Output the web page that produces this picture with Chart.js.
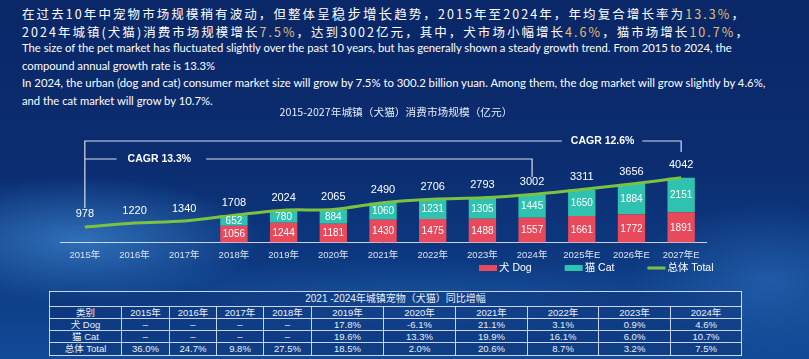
<!DOCTYPE html>
<html><head><meta charset="utf-8">
<script src="https://cdn.jsdelivr.net/npm/chart.js@4.4.1/dist/chart.umd.min.js"></script>
<style>
html,body{margin:0;padding:0;}
body{width:809px;height:359px;overflow:hidden;position:relative;
background:
 radial-gradient(ellipse 260px 90px at 80px 240px, rgba(70,150,225,0.6), rgba(70,150,225,0) 70%),
 radial-gradient(ellipse 200px 110px at 770px 280px, rgba(50,120,200,0.5), rgba(50,120,200,0) 70%),
 radial-gradient(ellipse 520px 60px at 420px 300px, rgba(40,110,190,0.35), rgba(40,110,190,0) 70%),
 linear-gradient(180deg,#0a2767 0%,#0b2d70 45%,#0d3a82 75%,#124a97 100%);
font-family:"Noto Sans CJK SC","Noto Sans",sans-serif;color:#fff;}
.zh{position:absolute;left:22px;font-size:12.5px;letter-spacing:2.6px;white-space:nowrap;line-height:16px;}
.zh .big{font-size:13.5px}
.gold{color:#e2bd74}
.en{position:absolute;left:22px;font-family:Lato,"Liberation Sans",sans-serif;font-size:12px;white-space:nowrap;line-height:16px;color:#fff}
#wrap{position:absolute;left:0;top:100px;width:809px;height:190px}
table{position:absolute;left:49px;top:291px;border-collapse:collapse;table-layout:fixed;width:692px;
 font-family:"Liberation Sans","Noto Sans CJK SC",sans-serif;font-size:9.5px;color:#e8eef8;background:rgba(8,30,90,0.25)}
td{border:1px solid rgba(235,240,250,0.85);padding:0;text-align:center;line-height:10px;height:11px;overflow:hidden;white-space:nowrap}
tr.t td{height:14px;font-size:10px}
tr.last td{height:12px}
</style></head><body>
<div class="zh" id="z1" style="top:5px">在过去10年中宠物市场规模稍有波动，但整体呈<span class="big">稳步增长</span>趋势，2015年至2024年，年均复合增长率为<span class="gold">13.3%</span>，</div>
<div class="zh" id="z2" style="top:24px">2024年城镇(犬猫)消费市场规模增长<span class="gold">7.5%</span>，达到3002亿元，其中，犬市场小幅增长<span class="gold">4.6%</span>，猫市场增长<span class="gold">10.7%</span>，</div>
<div class="en" id="e1" style="top:40px">The size of the pet market has fluctuated slightly over the past 10 years, but has generally shown a steady growth trend. From 2015 to 2024, the</div>
<div class="en" id="e2" style="top:58px">compound annual growth rate is 13.3%</div>
<div class="en" id="e3" style="top:75px">In 2024, the urban (dog and cat) consumer market size will grow by 7.5% to 300.2 billion yuan. Among them, the dog market will grow slightly by 4.6%,</div>
<div class="en" id="e4" style="top:93px">and the cat market will grow by 10.7%.</div>
<div id="wrap"><canvas id="c" width="809" height="190"></canvas></div>
<table id="tbl"></table>
<script>
// ---- data ----
const years = ['2015年','2016年','2017年','2018年','2019年','2020年','2021年','2022年','2023年','2024年','2025年E','2026年E','2027年E'];
const dog   = [null,null,null,1056,1244,1181,1430,1475,1488,1557,1661,1772,1891];
const cat   = [null,null,null,652,780,884,1060,1231,1305,1445,1650,1884,2151];
const total = [978,1220,1340,1708,2024,2065,2490,2706,2793,3002,3311,3656,4042];
const cagrLabels = ['CAGR 12.6%','CAGR 13.3%'];
const chartTitle = '2015-2027年城镇（犬猫）消费市场规模（亿元）';

const tableTitle = '2021 -2024年城镇宠物（犬猫）同比增幅';
const tableHeader = ['类别','2015年','2016年','2017年','2018年','2019年','2020年','2021年','2022年','2023年','2024年'];
const rowDog   = ['犬 Dog','–','–','–','–','17.8%','-6.1%','21.1%','3.1%','0.9%','4.6%'];
const rowCat   = ['猫 Cat','–','–','–','–','19.6%','13.3%','19.9%','16.1%','6.0%','10.7%'];
const rowTotal = ['总体 Total','36.0%','24.7%','9.8%','27.5%','18.5%','2.0%','20.6%','8.7%','3.2%','7.5%'];

// ---- table ----
(function(){
  const t=document.getElementById('tbl');
  const widths=[72,48,47,47,48,72,72,72,71,72,71];
  let h='<colgroup>'+widths.map(w=>'<col style="width:'+w+'px">').join('')+'</colgroup>';
  h+='<tr class="t"><td colspan="11">'+tableTitle+'</td></tr>';
  [tableHeader,rowDog,rowCat,rowTotal].forEach((r,i)=>{
    h+='<tr'+(i===3?' class="last"':'')+'>'+r.map(c=>'<td>'+c+'</td>').join('')+'</tr>';
  });
  t.innerHTML=h;
})();

// ---- text fitting ----
function fitLS(id,target){const el=document.getElementById(id);el.style.letterSpacing='0px';const w=el.getBoundingClientRect().width;const n=[...el.textContent].length;el.style.letterSpacing=((target-w)/n)+'px';}
function fitFS(ids,refId,target){const r=document.getElementById(refId);const w=r.getBoundingClientRect().width;const fs=12*target/w;ids.forEach(i=>document.getElementById(i).style.fontSize=fs+'px');}
fitLS('z1',724);fitLS('z2',728);
fitFS(['e1','e2','e4'],'e1',710);
fitFS(['e3'],'e3',744);

// ---- chart ----
const RED='#e84a5c', TEAL='#2fc2b1', GREEN='#7cc242';
const FONT='"Liberation Sans","Noto Sans CJK SC",sans-serif';

const labelPlugin={id:'vlabels',afterDatasetsDraw(chart){
  const ctx=chart.ctx;ctx.save();ctx.fillStyle='#fff';ctx.textAlign='center';ctx.textBaseline='middle';
  ctx.font='10px '+FONT;
  [0,1].forEach(di=>{chart.getDatasetMeta(di).data.forEach((b,i)=>{const v=chart.data.datasets[di].data[i];if(v==null)return;ctx.fillText(String(v),b.x,(b.y+b.base)/2+0.5);});});
  ctx.font='11px '+FONT;
  chart.getDatasetMeta(2).data.forEach((p,i)=>{ctx.fillText(String(total[i]),p.x,p.y-12.5);});
  ctx.restore();
}};

const titlePlugin={id:'mytitle',afterDraw(chart){
  const ctx=chart.ctx;ctx.save();ctx.fillStyle='#e6ecf5';ctx.textAlign='center';ctx.textBaseline='middle';
  ctx.font='10.7px "Noto Sans CJK SC",sans-serif';
  ctx.fillText(chartTitle,(chart.chartArea.left+chart.chartArea.right)/2+13,12);
  ctx.restore();
}};

const cagrPlugin={id:'cagr',afterDatasetsDraw(chart){
  const xs=chart.scales.x, ctx=chart.ctx;
  const x15=xs.getPixelForValue(0), x24=xs.getPixelForValue(9), x27=xs.getPixelForValue(12);
  const yTop=41, yMid=59;
  ctx.save();ctx.strokeStyle='rgba(232,238,248,0.92)';ctx.lineWidth=1.2;
  ctx.font='bold 10.5px '+FONT;ctx.fillStyle='#fff';ctx.textAlign='center';ctx.textBaseline='middle';
  const c1=(xs.getPixelForValue(10)+xs.getPixelForValue(11))/2-4;
  const w1=ctx.measureText(cagrLabels[0]).width;
  ctx.beginPath();
  ctx.moveTo(x15,108);ctx.lineTo(x15,yTop);ctx.lineTo(c1-w1/2-9,yTop);
  ctx.moveTo(c1+w1/2+8,yTop);ctx.lineTo(x27,yTop);ctx.lineTo(x27,52);
  const c2=(xs.getPixelForValue(1)+xs.getPixelForValue(2))/2;
  const w2=ctx.measureText(cagrLabels[1]).width;
  ctx.moveTo(x15,yMid);ctx.lineTo(c2-w2/2-11,yMid);
  ctx.moveTo(c2+w2/2+15,yMid);ctx.lineTo(x24,yMid);ctx.lineTo(x24,77);
  ctx.stroke();
  ctx.fillText(cagrLabels[0],c1,yTop);
  ctx.fillText(cagrLabels[1],c2,yMid);
  ctx.restore();
}};

const legendPlugin={id:'mylegend',afterDraw(chart){
  const ctx=chart.ctx;ctx.save();ctx.font='10.5px '+FONT;ctx.textBaseline='middle';ctx.fillStyle='#fff';
  let x=479;const y=168;
  chart.data.datasets.forEach(ds=>{
    if(ds.type==='line'){ctx.strokeStyle=ds.borderColor;ctx.lineWidth=3;ctx.beginPath();ctx.moveTo(x,y);ctx.lineTo(x+18,y);ctx.stroke();}
    else{ctx.fillStyle=ds.backgroundColor;ctx.fillRect(x,y-3,18,6);}
    ctx.fillStyle='#fff';ctx.fillText(ds.label,x+20,y+0.5);
    x+=20+ctx.measureText(ds.label).width+33;
  });
  ctx.restore();
}};

new Chart(document.getElementById('c'),{
  data:{labels:years,datasets:[
    {type:'bar',label:'犬 Dog',data:dog,backgroundColor:RED,stack:'s',order:2,categoryPercentage:1,barPercentage:0.55},
    {type:'bar',label:'猫 Cat',data:cat,backgroundColor:TEAL,stack:'s',order:2,categoryPercentage:1,barPercentage:0.55},
    {type:'line',label:'总体 Total',data:total,borderColor:GREEN,backgroundColor:GREEN,borderWidth:3,pointRadius:0,tension:0.3,stack:'t',order:1}
  ]},
  options:{responsive:false,animation:false,
    layout:{padding:{left:60,right:103,top:24.6,bottom:22}},
    scales:{
      x:{stacked:true,grid:{display:false,drawTicks:false},border:{display:true,color:'rgba(222,230,242,0.9)',width:1},
         ticks:{color:'#dbe3ef',font:{size:9.5,family:FONT},padding:7,maxRotation:0,autoSkip:false}},
      y:{stacked:true,display:false,min:0,max:7360}
    },
    plugins:{legend:{display:false},tooltip:{enabled:false},title:{display:false}}
  },
  plugins:[labelPlugin,cagrPlugin,legendPlugin,titlePlugin]
});
</script>
</body></html>
